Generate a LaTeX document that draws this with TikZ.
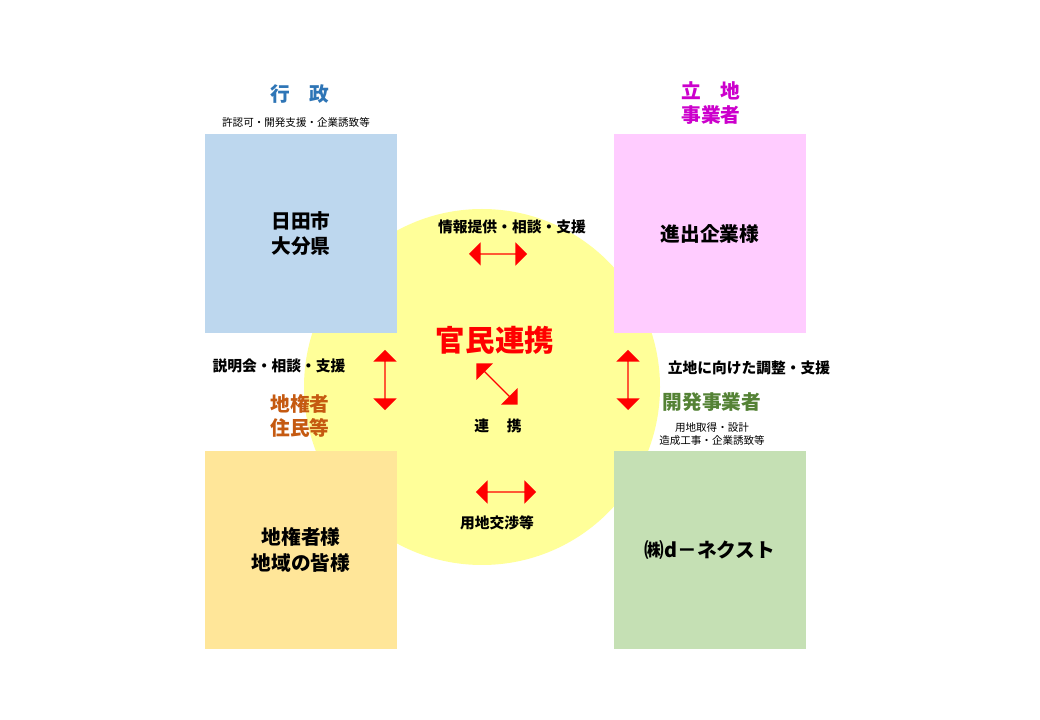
\documentclass[tikz,border=0pt]{standalone}
\usepackage{fontspec}
\setmainfont{Noto Sans CJK JP}
\usetikzlibrary{shapes.arrows}
\definecolor{gyosei}{RGB}{46,117,182}
\definecolor{ritchi}{RGB}{204,0,204}
\definecolor{chiken}{RGB}{197,90,17}
\definecolor{kaihatsu}{RGB}{84,130,53}
\definecolor{boxblue}{RGB}{189,215,238}
\definecolor{boxpink}{RGB}{255,204,255}
\definecolor{boxorange}{RGB}{255,230,153}
\definecolor{boxgreen}{RGB}{197,224,180}
\definecolor{circyellow}{RGB}{255,255,153}
\tikzset{
  party/.style={minimum width=4.8cm, minimum height=4.95cm, align=center, font=\fontsize{14}{18}\selectfont\bfseries},
  head/.style={align=center, font=\fontsize{14}{17}\selectfont\bfseries},
  small/.style={align=center, font=\fontsize{7.5}{9}\selectfont},
  lbl/.style={font=\fontsize{10.5}{12}\selectfont\bfseries},
  fat/.style={double arrow, fill=red, minimum height=1.5cm, minimum width=0.58cm, inner sep=0pt, double arrow head extend=0.12cm}
}
\begin{document}
\begin{tikzpicture}[x=0.025cm, y=-0.025cm]
	\useasboundingbox[fill=white] (0,0) rectangle (1040,720);
	\fill[circyellow] (482,387) circle (178);
	% parties
	\node[party, fill=boxblue] (Gyosei) at (301,233.5) {日田市\\大分県};
	\node[party, fill=boxpink] (Ritchi) at (710,233.5) {進出企業様};
	\node[party, fill=boxorange] (Chiken) at (301,550) {地権者様\\地域の皆様};
	\node[party, fill=boxgreen] (Kaihatsu) at (710,550) {㈱d－ネクスト};
	% headings
	\node[head, gyosei] (Gyosei head) at (300,94) {行\hspace{1em}政};
	\node[small] (Gyosei note) at (296,122) {許認可・開発支援・企業誘致等};
	\node[head, ritchi] (Ritchi head) at (711,103) {立\hspace{1em}地\\事業者};
	\node[head, chiken] (Chiken head) at (300,416) {地権者\\住民等};
	\node[head, kaihatsu] (Kaihatsu head) at (712,402) {開発事業者};
	\node[small] (Kaihatsu note) at (712,434) {用地取得・設計\\造成工事・企業誘致等};
	\node[red, font=\fontsize{21}{24}\selectfont\bfseries] (Kanmin) at (495,340) {官民連携};
	% arrows
	\node[fat, minimum height=1.45cm] (Top arrow) at (498,254) {};
	\node[fat, rotate=90] (Left arrow) at (385,380) {};
	\node[fat, rotate=90] (Right arrow) at (628,380) {};
	\node[fat, rotate=-45, minimum height=1.45cm] (Mid arrow) at (497,384) {};
	\node[fat] (Bottom arrow) at (506,492) {};
	% labels
	\node[lbl] (Top label) at (512,227) {情報提供・相談・支援};
	\node[lbl] (Left label) at (279,366) {説明会・相談・支援};
	\node[lbl] (Right label) at (749,368) {立地に向けた調整・支援};
	\node[lbl] (Mid label) at (498,426) {連\hspace{1.2em}携};
	\node[lbl] (Bottom label) at (497,523) {用地交渉等};
\end{tikzpicture}
\end{document}
